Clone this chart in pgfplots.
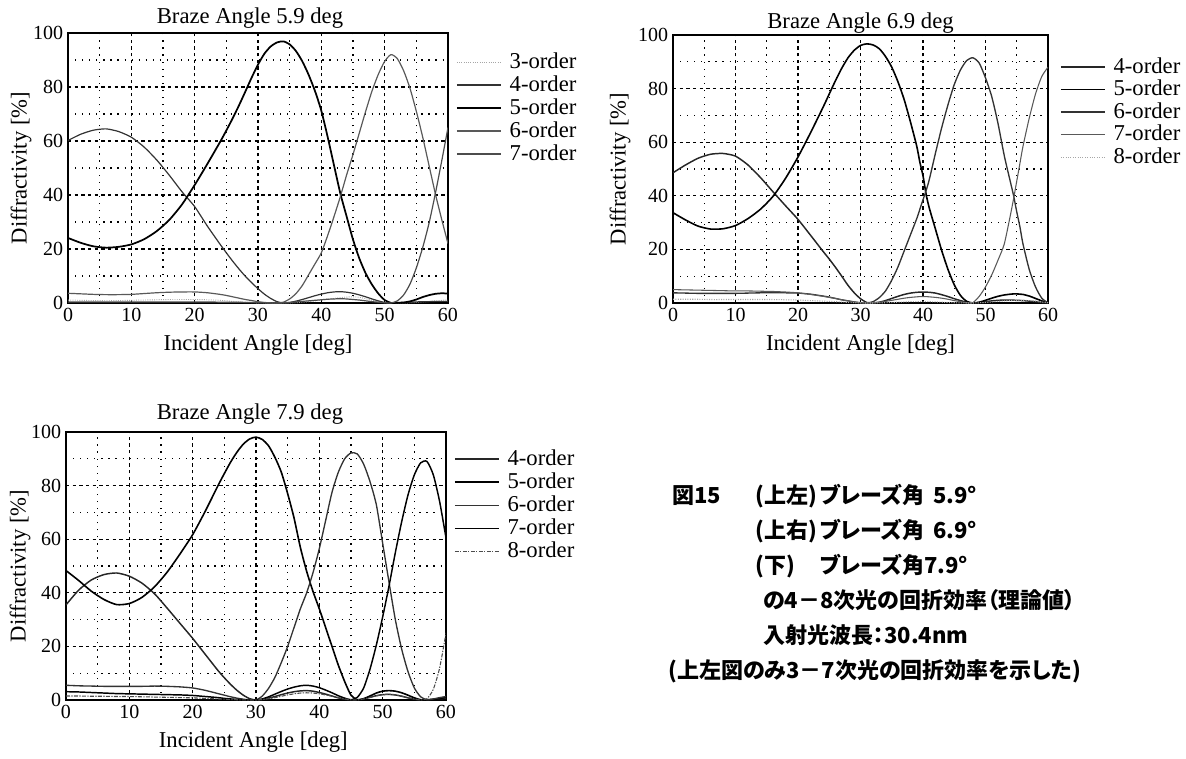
\documentclass[border=0pt]{standalone}
\usepackage{fontspec}
\setmainfont{Liberation Serif}
\newfontfamily\jp{Noto Sans CJK JP}[RawFeature=+palt]
\usepackage{pgfplots}
\usepackage{pgfplotstable}
\pgfplotsset{compat=1.18}

\newcommand\labfont{\fontsize{17}{20}\selectfont}
\newcommand\tckfont{\fontsize{15}{18}\selectfont}
\newcommand\capfont{\jp\bfseries\fontsize{16.5}{20}\selectfont}

% Diffraction efficiency [%] vs incident angle [deg], one table per blaze angle
\pgfplotstableread{
x    o3    o4    o5    o6    o7
0    1.1   60.2  24.1  3.6   0.4
2    1.0   62.5  22.3  3.4   0.4
4    0.9   64.0  21.0  3.2   0.4
6    0.9   64.5  20.5  3.1   0.4
8    0.9   63.5  20.8  3.1   0.4
10   1.0   61.4  21.7  3.2   0.4
12   1.1   57.8  23.6  3.5   0.4
14   1.2   53.0  26.6  3.8   0.4
16   1.3   47.3  30.8  4.0   0.4
18   1.3   41.2  36.5  4.1   0.4
20   1.3   35.7  43.7  4.1   0.4
22   1.2   28.5  51.5  3.8   0.4
24   1.0   21.8  59.6  3.2   0.3
25   0.8   18.6  63.9  2.8   0.3
26   0.6   15.5  68.4  2.3   0.3
27   0.4   12.6  73.2  1.8   0.3
28   0.3   9.9   78.3  1.3   0.2
29   0.15  7.5   83.5  0.9   0.2
30   0.05  5.3   88.3  0.5   0.1
31   0     3.3   92.3  0.2   0.05
32   0     1.7   95.0  0.05  0
33   0     0.5   96.5  0.0   0
34   0     0.05  96.9  0.3   0.05
35   0     0.2   95.8  1.5   0.2
36   0.1   0.7   93.3  3.5   0.4
37   0.3   1.3   89.5  6.5   0.6
38   0.5   2.0   84.5  10.5  0.8
39   0.8   2.7   78.5  14.5  1.0
40   1.1   3.3   71.2  18.6  1.2
41   1.4   3.8   61.5  25.0  1.4
42   1.7   4.1   51.0  32.0  1.5
43   2.0   4.2   40.6  39.4  1.6
44   2.2   4.0   32.0  47.5  1.5
45   2.3   3.6   23.5  55.0  1.3
46   2.1   3.0   16.5  63.0  1.1
47   1.6   2.3   11.0  71.0  0.8
48   1.0   1.5   6.8   78.5  0.5
49   0.5   0.8   3.5   84.7  0.3
50   0.1   0.2   1.1   89.5  0.1
51   0     0.0   0.05  92.0  0.0
52   0     0.1   0.1   90.5  0.8
53   0.05  0.2   0.2   86.0  3.0
54   0.1   0.3   0.6   79.5  7.0
55   0.2   0.4   1.3   71.0  13.0
56   0.4   0.5   2.2   61.5  20.5
57   0.6   0.5   2.9   51.0  29.5
58   0.8   0.6   3.4   40.5  40.5
59   1.0   0.6   3.6   31.0  52.5
60   1.1   0.6   3.5   22.0  65.0
}\bladeA

\pgfplotstableread{
x     o4    o5    o6    o7    o8
0     48.6  33.7  3.8   5.0   1.4
2     51.5  31.0  3.7   4.9   1.4
4     54.0  28.7  3.6   4.8   1.4
6     55.5  27.6  3.6   4.7   1.3
8     55.8  27.7  3.6   4.6   1.3
10    54.8  28.9  3.6   4.5   1.3
12    51.5  31.5  3.7   4.5   1.3
14    46.8  35.0  3.8   4.4   1.3
16    41.5  39.8  3.8   4.3   1.3
18    36.3  46.5  3.8   4.1   1.2
20    31.2  54.5  3.7   3.8   1.1
22    25.3  63.5  3.3   3.2   0.9
24    19.3  73.0  2.6   2.5   0.7
25    16.4  78.0  2.2   2.1   0.6
26    13.3  83.0  1.7   1.7   0.5
27    10.0  87.6  1.2   1.2   0.35
28    6.6   91.5  0.8   0.8   0.25
29    3.8   94.3  0.4   0.4   0.1
30    1.6   96.1  0.1   0.1   0.05
31    0.2   96.7  0.0   0.0   0
32    0.0   96.3  0.5   0.1   0
33    0.3   94.9  2.0   0.3   0.05
34    0.9   92.0  4.5   0.6   0.1
35    1.7   88.0  8.5   1.0   0.2
36    2.5   82.5  13.5  1.4   0.3
37    3.2   75.8  19.5  1.8   0.4
38    3.7   67.5  25.5  2.1   0.5
39    4.0   58.5  31.5  2.3   0.5
39.5  4.05  52.5  35.0  2.4   0.5
40    4.1   47.5  38.5  2.4   0.5
40.5  4.05  40.5  42.0  2.4   0.5
41    4.0   35.5  46.0  2.3   0.5
42    3.7   27.5  56.0  2.1   0.4
43    3.1   19.5  65.5  1.8   0.3
44    2.4   12.5  74.0  1.4   0.2
45    1.6   6.8   81.5  0.9   0.1
46    0.9   2.8   87.0  0.5   0.05
47    0.3   0.6   90.5  0.1   0
48    0.0   0.0   91.5  0.2   0
49    0.2   0.3   89.5  2.5   0.1
50    0.5   1.0   84.0  6.0   0.2
51    0.8   1.8   77.0  10.5  0.4
52    1.0   2.5   67.0  16.0  0.6
53    1.1   3.0   55.0  22.0  0.8
54    1.1   3.3   45.0  33.0  0.9
54.5  1.05  3.4   40.0  39.0  1.0
55    1.0   3.4   34.0  45.5  1.0
55.5  0.95  3.3   28.5  52.0  1.0
56    0.9   3.2   22.0  58.5  1.0
57    0.7   2.6   12.5  69.0  0.9
58    0.5   1.7   6.0   78.0  0.7
59    0.2   0.8   1.8   84.5  0.4
60    0.0   0.1   0.1   88.0  0.1
}\bladeB

\pgfplotstableread{
x    o4    o5    o6    o7    o8
0    35.5  48.3  5.5   3.1   1.5
2    41.0  44.6  5.3   3.0   1.5
4    44.8  40.6  5.2   2.8   1.4
6    46.8  37.5  5.1   2.6   1.4
8    47.4  35.6  5.1   2.4   1.3
10   46.2  36.0  5.1   2.3   1.3
12   43.6  38.3  5.1   2.2   1.2
14   39.6  42.3  5.2   2.1   1.1
16   34.2  47.8  5.1   2.0   1.0
18   28.6  54.5  4.9   1.9   0.9
20   23.0  61.7  4.5   1.7   0.8
22   17.0  70.5  3.6   1.3   0.6
24   11.0  80.0  2.4   0.9   0.4
25   8.3   84.5  1.8   0.6   0.3
26   5.8   88.8  1.2   0.4   0.2
27   3.6   92.5  0.7   0.2   0.1
28   1.8   95.5  0.3   0.1   0.05
29   0.5   97.4  0.05  0.0   0
30   0.0   98.1  0.0   0.0   0
31   0.2   97.2  1.5   0.4   0.2
32   0.7   94.8  4.4   1.2   0.5
33   1.3   90.5  8.5   2.2   0.9
34   2.0   85.0  14.0  3.2   1.4
35   2.6   77.0  20.0  4.1   1.9
36   3.1   68.0  27.0  4.8   2.3
37   3.4   57.0  34.0  5.3   2.6
38   3.5   48.0  40.0  5.5   2.7
39   3.3   40.5  47.5  5.2   2.6
40   2.8   34.0  56.5  4.6   2.3
41   2.2   27.0  67.0  3.7   1.9
42   1.5   20.0  77.5  2.7   1.4
43   0.8   13.0  85.0  1.6   0.9
44   0.3   6.9   90.0  0.7   0.4
45   0.05  1.8   92.2  0.1   0.1
46   0.05  0.1   91.8  1.0   0.05
47   0.4   0.5   88.0  4.5   0.4
48   1.0   1.5   81.5  11.5  1.0
49   1.6   2.6   72.9  20.5  1.6
50   2.0   3.3   58.5  31.0  2.0
51   2.1   3.5   44.0  42.5  2.1
52   1.9   3.3   30.0  55.0  1.9
53   1.4   2.7   19.0  66.5  1.5
54   0.8   1.8   10.6  76.5  0.9
55   0.3   0.8   4.5   84.0  0.4
56   0.0   0.1   1.2   88.5  0.05
57   0.1   0.0   0.1   89.0  0.5
58   0.3   0.2   0.4   84.0  4.0
59   0.5   0.6   0.9   74.0  12.0
60   0.6   1.0   1.3   60.5  25.0
}\bladeC

\pgfplotsset{
  difr/.style={
    scale only axis,
    xmin=0, xmax=60, ymin=0, ymax=100,
    xtick={0,10,...,60}, ytick={0,20,...,100},
    minor xtick={5,15,...,55}, minor ytick={10,30,...,90},
    grid=both,
    major grid style={black, line width=0.8pt, dash pattern=on 2.5pt off 2.5pt},
    minor grid style={black, line width=1pt, dash pattern=on 0.9pt off 4.4pt},
    major tick length=0pt, minor tick length=0pt,
    axis line style={black, line width=1.1pt},
    tick label style={font=\tckfont},
    /pgf/number format/assume math mode=true,
    xticklabel style={inner sep=0pt, yshift=-3.5pt},
    yticklabel style={inner sep=0pt, xshift=-3.5pt},
    xlabel={Incident Angle [deg]},
    ylabel={Diffractivity [\%]},
    label style={font=\labfont},
    title style={font=\labfont, at={(axis description cs:0.5,1)}, anchor=base},
    legend cell align=left,
    legend style={draw=none, fill=none, font=\labfont, inner sep=0pt,
      outer sep=0pt, anchor=north west,
      nodes={inner sep=0pt, text height=12pt, text depth=3pt}},
    legend image code/.code={\draw[##1] (0pt,0pt) -- (33pt,0pt); \path (39pt,0pt);},
    every axis plot/.append style={smooth, tension=0.4, line join=round},
  },
}

\begin{document}
\begin{tikzpicture}
\path[use as bounding box] (0pt,0pt) rectangle (889.5pt,-568.5pt);

% Braze angle 5.9 deg
\begin{axis}[difr, at={(51pt,-227.25pt)}, anchor=south west,
  width=285pt, height=202.5pt,
  title={Braze Angle 5.9 deg},
  title style={xshift=-6pt, yshift=1.5pt},
  xlabel style={at={(axis description cs:0.5,0)}, anchor=base, yshift=-35.25pt},
  ylabel style={at={(axis description cs:-0.1237,0.5)}, anchor=center},
  legend style={at={(1,1)}, xshift=6pt, yshift=-14.25pt, row sep=2.25pt}]
\addplot[gray!70, line width=0.7pt, densely dotted] table[x=x, y=o3] {\bladeA};
\addlegendentry{3-order}
\addplot[black!80, line width=0.9pt] table[x=x, y=o4] {\bladeA};
\addlegendentry{4-order}
\addplot[black, line width=1.3pt] table[x=x, y=o5] {\bladeA};
\addlegendentry{5-order}
\addplot[black!65, line width=0.9pt] table[x=x, y=o6] {\bladeA};
\addlegendentry{6-order}
\addplot[black!70, line width=0.9pt] table[x=x, y=o7] {\bladeA};
\addlegendentry{7-order}
\end{axis}

% Braze angle 6.9 deg
\begin{axis}[difr, at={(504.75pt,-227.25pt)}, anchor=south west,
  width=281.25pt, height=201pt,
  title={Braze Angle 6.9 deg},
  title style={yshift=-0.75pt},
  xlabel style={at={(axis description cs:0.5,0)}, anchor=base, yshift=-35.25pt},
  ylabel style={at={(axis description cs:-0.1413,0.5)}, anchor=center},
  legend style={at={(1,1)}, xshift=9pt, yshift=-16.5pt, row sep=1.9pt}]
\addplot[black!85, line width=1.1pt] table[x=x, y=o4] {\bladeB};
\addlegendentry{4-order}
\addplot[black, line width=1.2pt] table[x=x, y=o5] {\bladeB};
\addlegendentry{5-order}
\addplot[black!80, line width=1.0pt] table[x=x, y=o6] {\bladeB};
\addlegendentry{6-order}
\addplot[black!65, line width=0.8pt] table[x=x, y=o7] {\bladeB};
\addlegendentry{7-order}
\addplot[gray!70, line width=0.8pt, densely dotted] table[x=x, y=o8] {\bladeB};
\addlegendentry{8-order}
\end{axis}

% Braze angle 7.9 deg
\begin{axis}[difr, at={(49.5pt,-525pt)}, anchor=south west,
  width=285pt, height=201pt,
  title={Braze Angle 7.9 deg},
  title style={xshift=-4.5pt, yshift=3.75pt},
  xlabel style={at={(axis description cs:0.5,0)}, anchor=base, xshift=-2pt, yshift=-35.25pt},
  ylabel style={at={(axis description cs:-0.121,0.5)}, anchor=center},
  legend style={at={(1,1)}, xshift=6pt, yshift=-12.75pt, row sep=2.4pt}]
\addplot[black!85, line width=1.1pt] table[x=x, y=o4] {\bladeC};
\addlegendentry{4-order}
\addplot[black, line width=1.2pt] table[x=x, y=o5] {\bladeC};
\addlegendentry{5-order}
\addplot[black!80, line width=1.0pt] table[x=x, y=o6] {\bladeC};
\addlegendentry{6-order}
\addplot[black, line width=1.1pt] table[x=x, y=o7] {\bladeC};
\addlegendentry{7-order}
\addplot[black!70, line width=0.8pt, dash pattern=on 3pt off 1pt on 1pt off 1pt] table[x=x, y=o8] {\bladeC};
\addlegendentry{8-order}
\end{axis}

% Caption
\begin{scope}[x=0.75pt, y=-0.75pt, every node/.style={anchor=base west, inner sep=0pt, font=\capfont}]
\node at (672,503) {図15};
\node at (755,503) {(上左)};
\node at (820,503) {ブレーズ角};
\node at (933,503) {5.9°};
\node at (755,538) {(上右)};
\node at (820,538) {ブレーズ角};
\node at (933,538) {6.9°};
\node at (755,573) {(下)};
\node at (820,573) {ブレーズ角7.9°};
\node at (763,608) {の4－8次光の回折効率（理論値）};
\node at (763,643) {入射光波長：30.4nm};
\node at (668,678) {(上左図のみ3－7次光の回折効率を示した)};
\end{scope}
\end{tikzpicture}
\end{document}
